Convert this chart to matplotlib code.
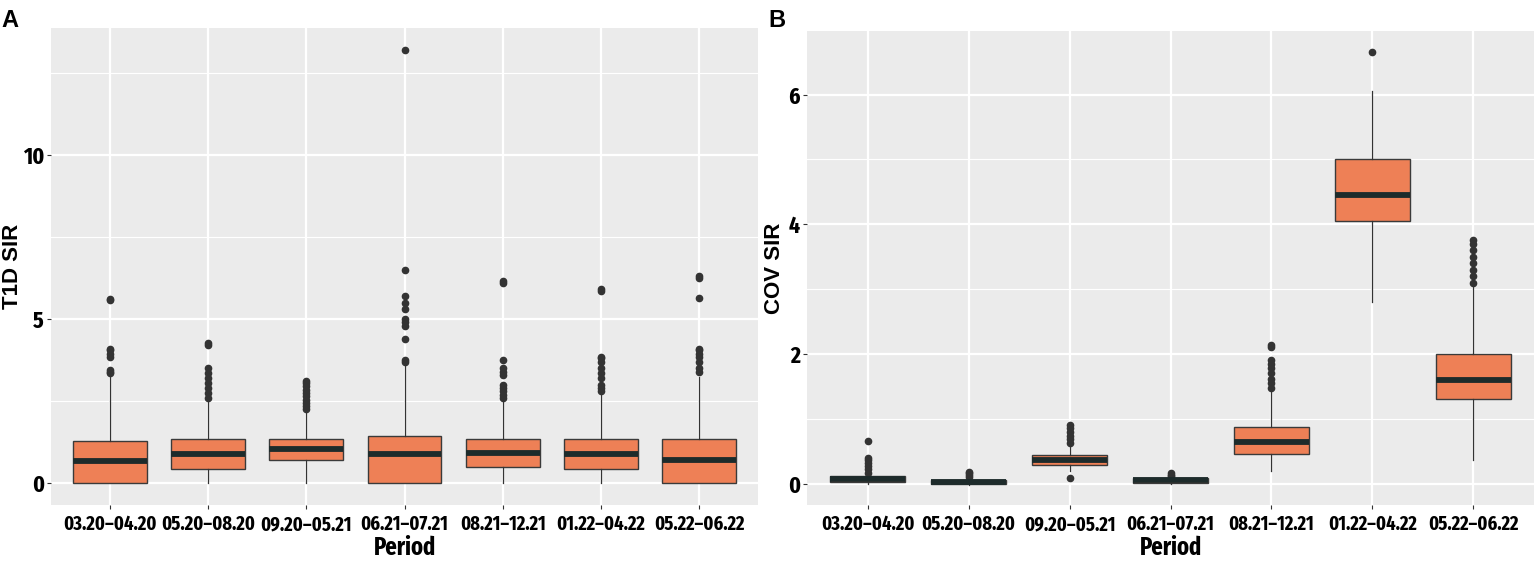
import matplotlib
matplotlib.use("Agg")
import matplotlib.pyplot as plt
from matplotlib.ticker import MultipleLocator
from matplotlib import font_manager as fm
from matplotlib.textpath import TextPath

# data (box summary stats)
periods = ["03.20\u201304.20", "05.20\u201308.20", "09.20\u201305.21", "06.21\u201307.21",
           "08.21\u201312.21", "01.22\u201304.22", "05.22\u201306.22"]

# panel A : T1D SIR
t1d_q1 = [0.0, 0.45, 0.72, 0.0, 0.51, 0.45, 0.0]
t1d_med = [0.67, 0.89, 1.03, 0.88, 0.92, 0.89, 0.72]
t1d_q3 = [1.30, 1.34, 1.34, 1.45, 1.34, 1.34, 1.34]
t1d_wlo = [0.0, 0.0, 0.0, 0.0, 0.0, 0.0, 0.0]
t1d_whi = [3.23, 2.57, 2.19, 3.68, 2.57, 2.79, 3.23]
t1d_out = [
    [3.35, 3.4, 3.45, 3.85, 3.95, 4.05, 4.1, 5.57, 5.6],
    [2.6, 2.75, 2.9, 3.05, 3.2, 3.35, 3.5, 4.2, 4.28],
    [2.25, 2.35, 2.45, 2.55, 2.65, 2.75, 2.85, 2.95, 3.05, 3.1],
    [3.7, 3.75, 4.4, 4.8, 4.9, 5.0, 5.3, 5.5, 5.7, 6.5, 13.2],
    [2.6, 2.7, 2.8, 2.9, 3.0, 3.3, 3.4, 3.5, 3.75, 6.1, 6.15],
    [2.8, 2.9, 3.0, 3.2, 3.35, 3.5, 3.7, 3.8, 3.85, 5.85, 5.9],
    [3.4, 3.5, 3.7, 3.85, 3.95, 4.05, 4.1, 5.65, 6.25, 6.3],
]

# panel B : COV SIR
cov_q1 = [0.03, -0.01, 0.29, 0.01, 0.45, 4.05, 1.30]
cov_med = [0.07, 0.02, 0.36, 0.05, 0.64, 4.45, 1.60]
cov_q3 = [0.11, 0.05, 0.44, 0.08, 0.88, 5.00, 2.00]
cov_wlo = [0.0, -0.02, 0.2, 0.0, 0.2, 2.8, 0.37]
cov_whi = [0.15, 0.08, 0.6, 0.1, 1.45, 6.05, 3.05]
cov_out = [
    [0.17, 0.22, 0.27, 0.32, 0.37, 0.4, 0.65],
    [0.1, 0.13, 0.16, 0.18],
    [0.08, 0.62, 0.68, 0.74, 0.8, 0.86, 0.9],
    [0.12, 0.14, 0.16],
    [1.47, 1.55, 1.62, 1.7, 1.78, 1.85, 1.9, 2.1, 2.13],
    [6.65],
    [3.1, 3.2, 3.3, 3.4, 3.5, 3.6, 3.7, 3.75],
]

fill = "#EE8056"
edge = "#3a3a3a"

# pick the narrowest bold face we have (tick labels in the picture are very condensed)
best = None
for f in fm.fontManager.ttflist:
    fn = f.fname.replace("-", "").replace("_", "")
    w = f.weight if isinstance(f.weight, int) else (700 if "bold" in str(f.weight) else 400)
    if w != 700 or f.style != "normal" or "Italic" in fn or "Mono" in fn or "CJK" in fn:
        continue
    if "ExtraCondensed" in fn:
        rank = 0
    elif "Narrow" in fn:
        rank = 10
    elif "SemiCondensed" in fn:
        rank = 40
    elif "Condensed" in fn:
        rank = 20
    elif f.name in ("Liberation Sans", "Roboto", "Inter", "Lato"):
        rank = 60
    else:
        continue
    if best is None or rank < best[0]:
        best = (rank, f.fname)

if best:
    base = fm.FontProperties(fname=best[1])
else:
    base = fm.FontProperties(family="DejaVu Sans", weight="bold")


def fit_size(s, px, cap=18):
    # size (pt) that makes the string about px pixels wide
    w = TextPath((0, 0), s, size=10, prop=base).get_extents().width
    return min(cap, 10 * px / (w * 100 / 72))


tsize = fit_size(periods[0], 92, 17)
ysize = tsize * 1.18
lsize = fit_size("Period", 60, 21)


def nprop(size):
    p = base.copy()
    p.set_size(size)
    return p


fig = plt.figure(figsize=(15.36, 5.69), dpi=100)
axA = fig.add_axes([0.0332, 0.1125, 0.4603, 0.8384])
axB = fig.add_axes([0.5254, 0.1125, 0.4733, 0.8330])


def draw(ax, q1, med, q3, wlo, whi, out, ylab, ylim, major, minor):
    stats = []
    for i in range(len(periods)):
        stats.append(dict(q1=q1[i], med=med[i], q3=q3[i], whislo=wlo[i],
                          whishi=whi[i], fliers=out[i], label=periods[i]))
    ax.set_facecolor("#EBEBEB")
    ax.yaxis.set_major_locator(MultipleLocator(major))
    ax.yaxis.set_minor_locator(MultipleLocator(minor))
    ax.grid(which="major", color="white", lw=1.6)
    ax.grid(which="minor", axis="y", color="white", lw=0.8)
    ax.set_axisbelow(True)
    ax.bxp(stats, positions=range(1, 8), widths=0.75, patch_artist=True,
           showcaps=False,
           boxprops=dict(facecolor=fill, edgecolor=edge, lw=1.0),
           medianprops=dict(color="#1d2b2b", lw=4.2, solid_capstyle="butt"),
           whiskerprops=dict(color="#333333", lw=0.9),
           flierprops=dict(marker="o", markersize=4.5, markerfacecolor="#333333",
                           markeredgecolor="#333333"))
    ax.set_xlim(0.4, 7.6)
    ax.set_ylim(*ylim)
    for s in ax.spines.values():
        s.set_visible(False)
    ax.tick_params(which="major", length=3, color="#333333", pad=4)
    ax.tick_params(axis="y", which="major", pad=2)
    ax.tick_params(which="minor", length=0)
    ax.set_xticks(range(1, 8))
    ax.set_xticklabels(periods, fontproperties=nprop(tsize))
    for t in ax.get_yticklabels():
        t.set_fontproperties(nprop(ysize))
    ax.set_xlabel("Period", fontproperties=nprop(lsize), labelpad=1)
    ax.set_ylabel(ylab, fontsize=16, fontweight="bold", family=["Liberation Sans", "DejaVu Sans"])


draw(axA, t1d_q1, t1d_med, t1d_q3, t1d_wlo, t1d_whi, t1d_out, "T1D SIR",
     (-0.66, 13.86), 5, 2.5)
draw(axB, cov_q1, cov_med, cov_q3, cov_wlo, cov_whi, cov_out, "COV SIR",
     (-0.33, 6.98), 2, 1)
axA.yaxis.set_label_coords(-0.04, 0.5)
axB.yaxis.set_label_coords(-0.03, 0.5)

fig.text(0.001, 0.985, "A", fontsize=17, fontweight="bold", family="Liberation Sans", va="top")
fig.text(0.5, 0.985, "B", fontsize=17, fontweight="bold", family="Liberation Sans", va="top")

fig.savefig("out.png", dpi=100)
